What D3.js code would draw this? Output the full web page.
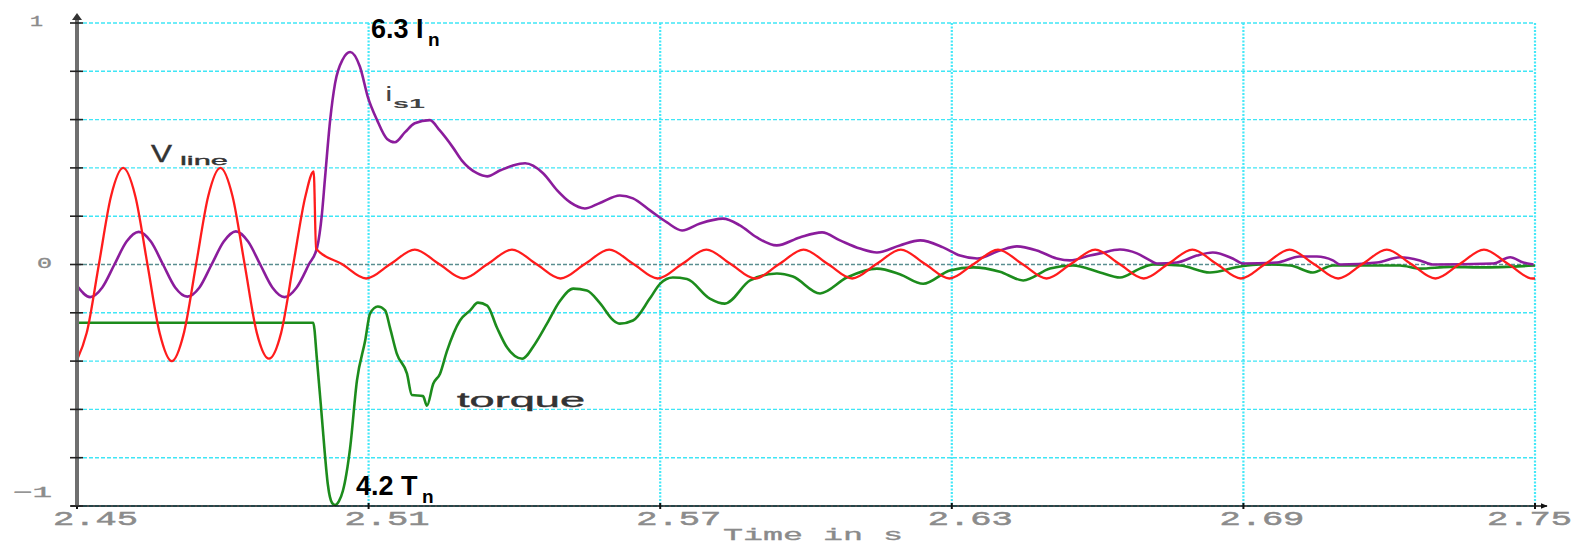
<!DOCTYPE html>
<html>
<head>
<meta charset="utf-8">
<script src="https://cdn.jsdelivr.net/npm/d3@7"></script>
<style>
  html, body { margin: 0; padding: 0; background: #ffffff; }
  svg { display: block; }
</style>
</head>
<body>
<svg id="chart" width="1583" height="546"></svg>
<script>
// ---- data -------------------------------------------------------------
const xTickValues = [2.45, 2.51, 2.57, 2.63, 2.69, 2.75];
const xTickLabels = ["2.45", "2.51", "2.57", "2.63", "2.69", "2.75"];
const yGridValues = [-1, -0.8, -0.6, -0.4, -0.2, 0, 0.2, 0.4, 0.6, 0.8, 1];
const yLabelValues = [1, 0, -1];
const yLabelTexts = ["1", "0", "\u22121"];

// line voltage (t [s], value)
const vLine = [
  [2.4500,-0.395],[2.4520,-0.283],[2.4545,0],[2.4570,0.283],[2.4595,0.40],[2.4620,0.283],
  [2.4645,0],[2.4670,-0.283],[2.4695,-0.40],[2.4720,-0.283],[2.4745,0],[2.4770,0.283],
  [2.4795,0.40],[2.4820,0.283],[2.4845,0],[2.4870,-0.283],[2.4895,-0.39],[2.4920,-0.283],
  [2.4945,0],[2.4970,0.283],[2.4987,0.385],[2.4992,0.065],
  [2.5045,0.002],[2.5095,-0.058],[2.5145,0.002],[2.5195,0.062],[2.5245,0.002],[2.5295,-0.058],
  [2.5345,0.002],[2.5395,0.062],[2.5445,0.002],[2.5495,-0.058],[2.5545,0.002],[2.5595,0.062],
  [2.5645,0.002],[2.5695,-0.058],[2.5745,0.002],[2.5795,0.062],[2.5845,0.002],[2.5895,-0.058],
  [2.5945,0.002],[2.5995,0.062],[2.6045,0.002],[2.6095,-0.058],[2.6145,0.002],[2.6195,0.062],
  [2.6245,0.002],[2.6295,-0.058],[2.6345,0.002],[2.6395,0.062],[2.6445,0.002],[2.6495,-0.058],
  [2.6545,0.002],[2.6595,0.062],[2.6645,0.002],[2.6695,-0.058],[2.6745,0.002],[2.6795,0.062],
  [2.6845,0.002],[2.6895,-0.058],[2.6945,0.002],[2.6995,0.062],[2.7045,0.002],[2.7095,-0.058],
  [2.7145,0.002],[2.7195,0.062],[2.7245,0.002],[2.7295,-0.058],[2.7345,0.002],[2.7395,0.062],
  [2.7445,0.002],[2.7495,-0.058],[2.7500,-0.058]
];

// stator current i_s1
const iS1 = [
  [2.4500,-0.088],[2.4527,-0.135],[2.4552,-0.095],[2.4577,0],[2.4602,0.095],[2.4627,0.135],
  [2.4652,0.095],[2.4677,0],[2.4702,-0.095],[2.4727,-0.133],[2.4752,-0.095],[2.4777,0],
  [2.4802,0.095],[2.4827,0.137],[2.4852,0.095],[2.4877,0],[2.4902,-0.095],[2.4927,-0.135],
  [2.4952,-0.095],[2.4977,0],[2.4994,0.07],[2.5004,0.21],[2.5010,0.35],[2.5021,0.60],
  [2.5031,0.75],[2.5047,0.85],[2.5062,0.88],[2.5082,0.82],[2.5099,0.69],[2.5117,0.60],
  [2.5138,0.52],[2.5154,0.506],[2.5175,0.548],[2.5195,0.585],[2.5226,0.598],[2.5246,0.556],
  [2.5273,0.486],[2.5292,0.43],[2.5323,0.378],[2.5344,0.365],[2.5371,0.39],[2.5397,0.41],
  [2.5422,0.419],[2.5459,0.378],[2.5488,0.307],[2.5515,0.257],[2.5545,0.232],[2.5576,0.255],
  [2.5617,0.286],[2.5644,0.274],[2.5679,0.224],[2.5714,0.174],[2.5745,0.141],[2.5782,0.17],
  [2.5829,0.19],[2.5864,0.162],[2.5899,0.112],[2.5940,0.079],[2.5987,0.112],[2.6033,0.133],
  [2.6070,0.10],[2.6111,0.066],[2.6146,0.05],[2.6193,0.079],[2.6235,0.10],[2.6282,0.071],
  [2.6317,0.037],[2.6352,0.025],[2.6399,0.058],[2.6434,0.075],[2.6475,0.058],[2.6516,0.025],
  [2.6543,0.017],[2.6584,0.037],[2.6605,0.046],[2.6646,0.062],[2.6681,0.046],[2.6708,0.017],
  [2.6722,0.004],[2.6763,0.008],[2.6804,0.037],[2.6837,0.05],[2.6878,0.025],[2.6899,0.004],
  [2.6969,0.008],[2.7016,0.033],[2.7051,0.033],[2.7084,0.017],[2.7099,0],[2.7175,0.008],
  [2.7222,0.03],[2.7263,0.017],[2.7290,0],[2.7414,0.004],[2.7449,0.03],[2.7476,0.008],
  [2.7497,0]
];

// electromagnetic torque
const torque = [
  [2.4500,-0.241],[2.4986,-0.241],[2.4994,-0.40],[2.5004,-0.637],[2.5010,-0.784],[2.5016,-0.909],
  [2.5025,-0.988],[2.5031,-0.996],[2.5039,-0.98],[2.5047,-0.938],[2.5062,-0.759],[2.5076,-0.481],
  [2.5093,-0.315],[2.5103,-0.203],[2.5119,-0.174],[2.5134,-0.19],[2.5144,-0.261],[2.5158,-0.369],
  [2.5179,-0.452],[2.5189,-0.54],[2.5212,-0.545],[2.5220,-0.585],[2.5233,-0.494],[2.5247,-0.452],
  [2.5261,-0.36],[2.5288,-0.232],[2.5309,-0.19],[2.5325,-0.158],[2.5344,-0.17],[2.5364,-0.261],
  [2.5385,-0.344],[2.5416,-0.39],[2.5442,-0.33],[2.5467,-0.245],[2.5494,-0.15],[2.5521,-0.10],
  [2.5549,-0.108],[2.5576,-0.16],[2.5603,-0.23],[2.5617,-0.245],[2.5644,-0.232],[2.5679,-0.14],
  [2.5700,-0.079],[2.5726,-0.054],[2.5755,-0.06],[2.5802,-0.141],[2.5833,-0.162],[2.5885,-0.066],
  [2.5940,-0.037],[2.5973,-0.05],[2.6029,-0.12],[2.6084,-0.054],[2.6146,-0.017],[2.6193,-0.04],
  [2.6241,-0.08],[2.6296,-0.025],[2.6344,-0.012],[2.6399,-0.03],[2.6447,-0.066],[2.6502,-0.017],
  [2.6549,-0.004],[2.6605,-0.033],[2.6646,-0.054],[2.6687,-0.017],[2.6714,0],[2.6770,-0.004],
  [2.6831,-0.033],[2.6893,-0.008],[2.6934,0],[2.6996,-0.004],[2.7043,-0.033],[2.7084,-0.004],
  [2.7222,-0.004],[2.7263,-0.017],[2.7325,-0.01],[2.7387,-0.012],[2.7500,-0.004]
];

// ---- layout ------------------------------------------------------------
const W = 1583;
const svg = d3.select("#chart");
const x = d3.scaleLinear().domain([2.45, 2.75]).range([77, 1535]);
const y = d3.scaleLinear().domain([-1, 1]).range([506, 23]);

const defs = svg.append("defs");
defs.append("marker").attr("id", "arrowX")
  .attr("viewBox", "0 0 10 10").attr("refX", 9).attr("refY", 5)
  .attr("markerWidth", 7).attr("markerHeight", 7).attr("orient", "auto")
  .attr("markerUnits", "userSpaceOnUse")
  .append("path").attr("d", "M0,1 L10,5 L0,9 Z").attr("fill", "#111");
defs.append("filter").attr("id", "soft")
  .append("feGaussianBlur").attr("stdDeviation", 0.35);

// grid
const grid = svg.append("g");
grid.selectAll("line.h").data(yGridValues.filter(v => v !== 0)).join("line")
  .attr("x1", x(2.45)).attr("x2", x(2.75))
  .attr("y1", d => y(d)).attr("y2", d => y(d))
  .attr("stroke", "#3fe6f6").attr("stroke-width", 1.4)
  .attr("stroke-dasharray", "4,2");
grid.selectAll("line.v").data(xTickValues.slice(1)).join("line")
  .attr("x1", d => x(d)).attr("x2", d => x(d))
  .attr("y1", y(1)).attr("y2", y(-1))
  .attr("stroke", "#45e8f8").attr("stroke-width", 2.2)
  .attr("stroke-dasharray", "2,1.5");
grid.append("line")
  .attr("x1", x(2.45)).attr("x2", x(2.75))
  .attr("y1", y(0)).attr("y2", y(0))
  .attr("stroke", "#5a8e90").attr("stroke-width", 1.3)
  .attr("stroke-dasharray", "4,2");

// series
const line = d3.line().x(d => x(d[0])).y(d => y(d[1])).curve(d3.curveMonotoneX);
const series = svg.append("g").attr("fill", "none")
  .attr("stroke-linejoin", "round").attr("filter", "url(#soft)");
series.append("path").datum(torque).attr("d", line)
  .attr("stroke", "#1f8c1f").attr("stroke-width", 2.6);
series.append("path").datum(iS1).attr("d", line)
  .attr("stroke", "#8b1f9c").attr("stroke-width", 2.6);
series.append("path").datum(vLine).attr("d", line)
  .attr("stroke", "#ff1c1c").attr("stroke-width", 2.3);

// x axis
const monoFont = "Liberation Mono, DejaVu Sans Mono, monospace";
const xAxis = svg.append("g");
xAxis.append("line")
  .attr("x1", x(2.45) - 6).attr("x2", x(2.75) + 12)
  .attr("y1", y(-1)).attr("y2", y(-1))
  .attr("stroke", "#111").attr("stroke-width", 1.5)
  .attr("marker-end", "url(#arrowX)");
xAxis.selectAll("line.tick").data(xTickValues).join("line")
  .attr("x1", d => x(d)).attr("x2", d => x(d))
  .attr("y1", y(-1) - 3).attr("y2", y(-1) + 3)
  .attr("stroke", "#111").attr("stroke-width", 2);
const tickLabelW = 85;
xAxis.selectAll("text").data(xTickValues).join("text")
  .attr("x", d => Math.min(x(d) - 24, W - 11 - tickLabelW)).attr("y", 525)
  .attr("textLength", tickLabelW).attr("lengthAdjust", "spacingAndGlyphs")
  .attr("font-family", monoFont)
  .attr("font-size", 20)
  .attr("fill", "#8c8c8c").attr("stroke", "#8c8c8c").attr("stroke-width", 0.5)
  .text((d, i) => xTickLabels[i]);
svg.append("text")
  .attr("x", 723).attr("y", 540)
  .attr("textLength", 180).attr("lengthAdjust", "spacingAndGlyphs")
  .attr("font-family", monoFont)
  .attr("font-size", 16).attr("fill", "#8a8a8a")
  .attr("stroke", "#8a8a8a").attr("stroke-width", 0.3)
  .text("Time in s");

// y axis
const yAxis = svg.append("g");
yAxis.append("line")
  .attr("x1", x(2.45)).attr("x2", x(2.45))
  .attr("y1", y(-1)).attr("y2", 18)
  .attr("stroke", "#6f6f6f").attr("stroke-width", 4);
yAxis.append("path")
  .attr("d", `M${x(2.45) - 5},${20} L${x(2.45)},${13} L${x(2.45) + 5},${20} Z`)
  .attr("fill", "#333");
yAxis.selectAll("line.tick").data(yGridValues).join("line")
  .attr("x1", x(2.45) - 7).attr("x2", x(2.45) + 6)
  .attr("y1", d => y(d)).attr("y2", d => y(d))
  .attr("stroke", "#222").attr("stroke-width", 1.6);
const yLabelWidths = { "1": 13, "0": 15, "\u22121": 39 };
yAxis.selectAll("text").data(yLabelValues).join("text")
  .attr("x", d => d === 1 ? 43 : 52)
  .attr("y", d => d === -1 ? y(d) - 9 : y(d) + 3)
  .attr("text-anchor", "end")
  .attr("textLength", (d, i) => yLabelWidths[yLabelTexts[i]])
  .attr("lengthAdjust", "spacingAndGlyphs")
  .attr("font-family", monoFont)
  .attr("font-size", 15)
  .attr("fill", "#8c8c8c").attr("stroke", "#8c8c8c").attr("stroke-width", 0.4)
  .text((d, i) => yLabelTexts[i]);

// curve labels
const lab = svg.append("g").attr("font-family", "Liberation Sans, Arial, sans-serif");
lab.append("text").attr("x", 151).attr("y", 162).attr("font-size", 23)
  .attr("textLength", 21).attr("lengthAdjust", "spacingAndGlyphs")
  .attr("fill", "#333").attr("stroke", "#333").attr("stroke-width", 0.4).text("V");
lab.append("text").attr("x", 180).attr("y", 165).attr("font-size", 12)
  .attr("textLength", 48).attr("lengthAdjust", "spacingAndGlyphs")
  .attr("fill", "#333").attr("stroke", "#333").attr("stroke-width", 0.3).text("line");
lab.append("text").attr("x", 386).attr("y", 101).attr("font-size", 20)
  .attr("font-weight", "bold").attr("fill", "#444").text("i");
lab.append("text").attr("x", 393).attr("y", 108).attr("font-size", 13)
  .attr("font-weight", "bold")
  .attr("textLength", 32).attr("lengthAdjust", "spacingAndGlyphs")
  .attr("fill", "#444").text("s1");
lab.append("text").attr("x", 457).attr("y", 407).attr("font-size", 20)
  .attr("textLength", 128).attr("lengthAdjust", "spacingAndGlyphs")
  .attr("fill", "#333").attr("stroke", "#333").attr("stroke-width", 0.4).text("torque");

// peak annotations
lab.append("text").attr("x", 371).attr("y", 38).attr("font-size", 27)
  .attr("font-weight", "bold").attr("fill", "#000").text("6.3 I");
lab.append("text").attr("x", 428).attr("y", 46).attr("font-size", 19)
  .attr("font-weight", "bold").attr("fill", "#000").text("n");
lab.append("text").attr("x", 356).attr("y", 495).attr("font-size", 27)
  .attr("font-weight", "bold").attr("fill", "#000").text("4.2 T");
lab.append("text").attr("x", 422).attr("y", 503).attr("font-size", 19)
  .attr("font-weight", "bold").attr("fill", "#000").text("n");
</script>
</body>
</html>
